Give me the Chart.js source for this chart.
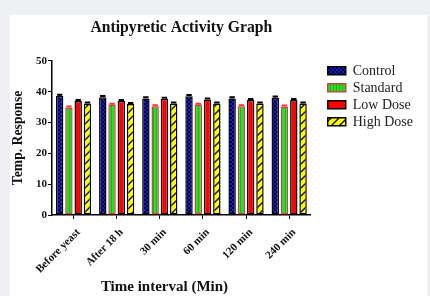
<!DOCTYPE html>
<html>
<head>
  <meta charset="UTF-8">
  <title>Antipyretic Activity Graph</title>
  <script src="https://cdn.jsdelivr.net/npm/chart.js"></script>
  <style>
    body {
      margin: 0;
      background: #eef0f3;
      width: 430px;
      height: 296px;
      overflow: hidden;
    }

    .panel {
      position: absolute;
      left: 10px;
      top: 15px;
      width: 417px;
      height: 281px;
      background: #ffffff;
    }
  </style>
</head>
<body>
  <div class="panel">
    <canvas id="antipyreticChart" width="417" height="281"></canvas>
  </div>

  <script>
    const timeLabels = ['Before yeast', 'After 18 h', '30 min', '60 min', '120 min', '240 min'];
    const controlValues = [38.6, 38.2, 37.8, 38.5, 37.8, 38.0];
    const standardValues = [34.9, 35.8, 35.3, 35.8, 35.3, 35.2];
    const lowDoseValues = [37.0, 37.0, 37.7, 37.5, 37.3, 37.3];
    const highDoseValues = [36.2, 36.0, 36.2, 36.2, 36.2, 36.2];
    const controlErr = [0.4, 0.4, 0.4, 0.4, 0.4, 0.4];
    const standardErr = [0.3, 0.3, 0.3, 0.3, 0.3, 0.3];
    const lowDoseErr = [0.3, 0.3, 0.3, 0.3, 0.3, 0.3];
    const highDoseErr = [0.3, 0.3, 0.3, 0.3, 0.3, 0.3];
    const yTicks = [0, 10, 20, 30, 40, 50];

    const serif = "'Liberation Serif', 'Times New Roman', serif";

    function makePattern(w, h, draw) {
      const c = document.createElement('canvas');
      c.width = w;
      c.height = h;
      draw(c.getContext('2d'));
      return c.getContext('2d').createPattern(c, 'repeat');
    }

    // blue checker dots on black
    const controlFill = makePattern(4, 4, g => {
      g.fillStyle = '#000010';
      g.fillRect(0, 0, 4, 4);
      g.fillStyle = '#1515f0';
      g.fillRect(0, 0, 2, 2);
      g.fillRect(2, 2, 2, 2);
    });

    // green with fine vertical stripes
    const standardFill = makePattern(3, 3, g => {
      g.fillStyle = '#22e022';
      g.fillRect(0, 0, 3, 3);
      g.fillStyle = '#18b818';
      g.fillRect(2, 0, 1, 3);
    });

    // yellow with black diagonal hatching
    const highFill = makePattern(8, 8, g => {
      g.fillStyle = '#ffff00';
      g.fillRect(0, 0, 8, 8);
      g.strokeStyle = '#000';
      g.lineWidth = 1.3;
      g.beginPath();
      g.moveTo(0, 8); g.lineTo(8, 0);
      g.moveTo(-2, 2); g.lineTo(2, -2);
      g.moveTo(6, 10); g.lineTo(10, 6);
      g.stroke();
    });

    const errorBars = {
      id: 'errorBars',
      afterDatasetsDraw(chart) {
        const ctx = chart.ctx;
        const y = chart.scales.y;
        chart.data.datasets.forEach((ds, i) => {
          const meta = chart.getDatasetMeta(i);
          meta.data.forEach((bar, j) => {
            const v = ds.data[j];
            const e = ds.errors[j];
            const top = y.getPixelForValue(v + e);
            const half = bar.width / 2;
            ctx.save();
            ctx.strokeStyle = ds.errColor;
            ctx.lineWidth = 2;
            ctx.beginPath();
            ctx.moveTo(bar.x - half + 1, top);
            ctx.lineTo(bar.x + half - 1, top);
            ctx.moveTo(bar.x, top);
            ctx.lineTo(bar.x, y.getPixelForValue(v));
            ctx.stroke();
            ctx.restore();
          });
        });
      }
    };

    // push the legend a bit away from the plot
    const legendGap = {
      id: 'legendGap',
      afterLayout(chart) {
        if (chart.legend) {
          chart.legend.left += 14;
          chart.legend.right += 14;
        }
      }
    };

    const ctx = document.getElementById('antipyreticChart').getContext('2d');
    new Chart(ctx, {
      type: 'bar',
      data: {
        labels: timeLabels,
        datasets: [
          { label: 'Control', data: controlValues, errors: controlErr, errColor: '#000',
            backgroundColor: controlFill, borderColor: '#000', borderWidth: 1.5 },
          { label: 'Standard', data: standardValues, errors: standardErr, errColor: '#ff3030',
            backgroundColor: standardFill, borderColor: '#d04040', borderWidth: 1.5 },
          { label: 'Low Dose', data: lowDoseValues, errors: lowDoseErr, errColor: '#000',
            backgroundColor: '#ff0000', borderColor: '#000', borderWidth: 1.5 },
          { label: 'High Dose', data: highDoseValues, errors: highDoseErr, errColor: '#000',
            backgroundColor: highFill, borderColor: '#000', borderWidth: 1.5 }
        ]
      },
      options: {
        responsive: false,
        animation: false,
        layout: { padding: { left: 0, right: 18, top: 0, bottom: 0 } },
        datasets: {
          bar: { categoryPercentage: 0.86, barPercentage: 0.8, borderSkipped: false }
        },
        plugins: {
          title: {
            display: true,
            text: 'Antipyretic Activity Graph',
            fullSize: false,
            color: '#111',
            font: { family: serif, size: 15.7, weight: 'bold' },
            padding: { top: 4, bottom: 23 }
          },
          legend: {
            position: 'right',
            align: 'start',
            fullSize: false,
            labels: {
              color: '#222',
              font: { family: serif, size: 14 },
              boxWidth: 18,
              boxHeight: 8,
              padding: 3
            }
          },
          tooltip: { enabled: false }
        },
        scales: {
          x: {
            grid: { drawOnChartArea: false, drawTicks: true, offset: false, tickLength: 4, color: '#000' },
            border: { color: '#000', width: 1.5 },
            ticks: {
              color: '#111',
              minRotation: 45,
              maxRotation: 45,
              padding: 7,
              labelOffset: 5,
              font: { family: serif, size: 11, weight: 'bold' }
            },
            title: {
              display: true,
              text: 'Time interval (Min)         ',
              color: '#111',
              font: { family: serif, size: 15, weight: 'bold' },
              padding: { top: 0, bottom: 0 }
            },
            afterFit: s => { s.height = 81; }
          },
          y: {
            min: 0,
            max: 50,
            grid: { drawOnChartArea: false, drawTicks: true, tickLength: 4, color: '#000' },
            border: { color: '#000', width: 1.5 },
            afterBuildTicks: s => { s.ticks = yTicks.map(v => ({ value: v })); },
            ticks: {
              color: '#111',
              padding: 1,
              font: { family: serif, size: 11, weight: 'bold' }
            },
            title: {
              display: true,
              text: 'Temp. Response',
              color: '#111',
              font: { family: serif, size: 13.7, weight: 'bold' },
              padding: { top: 0, bottom: 3 }
            },
            afterFit: s => { s.width = 42; }
          }
        }
      },
      plugins: [errorBars, legendGap]
    });
  </script>
</body>
</html>
